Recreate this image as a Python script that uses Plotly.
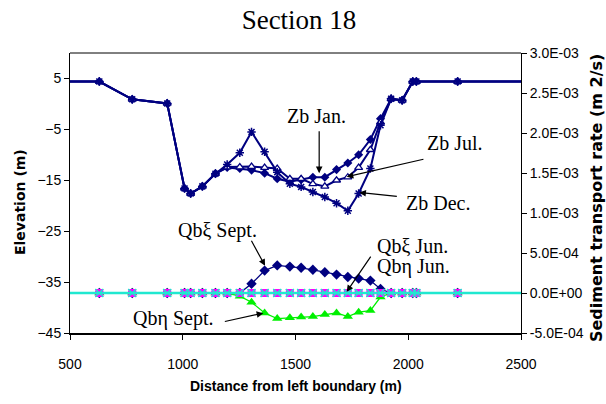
import plotly.graph_objects as go

# Cross-section stations (m from left boundary)
distance = [400, 630, 776, 931, 1008, 1035, 1087, 1145, 1197, 1253, 1305, 1363, 1419, 1475,
            1525, 1577, 1630, 1682, 1732, 1780, 1832, 1877, 1924, 1973, 2020, 2036, 2219, 2600]

# Bed elevation (m)
zb_jan = [4.4, 4.4, 0.9, 0.1, -16.6, -17.6, -16.2, -13.7, -12.5, -12.7, -13.0, -13.6, -14.7, -15.3,
          -14.9, -14.4, -14.4, -12.9, -11.6, -10.0, -7.0, -2.9, 1.0, 0.7, 4.4, 4.4, 4.4, 4.4]
zb_jul = [4.4, 4.4, 0.9, 0.1, -16.6, -17.6, -16.2, -13.7, -12.4, -12.4, -12.3, -12.5, -12.7, -14.7,
          -14.7, -15.7, -16.2, -15.0, -14.4, -12.5, -9.0, -3.6, 1.0, 0.7, 4.4, 4.4, 4.4, 4.4]
zb_dec = [4.4, 4.4, 0.9, 0.1, -16.6, -17.6, -16.2, -13.7, -11.9, -9.6, -5.5, -9.4, -13.4, -15.7,
          -16.3, -17.3, -18.3, -19.5, -21.0, -17.6, -12.7, -4.2, 1.0, 0.7, 4.4, 4.4, 4.4, 4.4]

# Sediment transport rate (m2/s)
qb_xi_sept = [0, 0, 0, 0, 0, 0, 0, 0, 0, 0, 1.15e-4, 2.8e-4, 3.45e-4, 3.3e-4,
              3.15e-4, 2.9e-4, 2.6e-4, 2.3e-4, 2.0e-4, 1.8e-4, 1.55e-4, 0.5e-4, 0, 0, 0, 0, 0, 0]
qb_eta_sept = [0, 0, 0, 0, 0, 0, 0, 0, 0, -0.4e-4, -1.15e-4, -2.5e-4, -3.2e-4, -3.1e-4,
               -3.0e-4, -2.95e-4, -2.7e-4, -2.5e-4, -2.95e-4, -2.4e-4, -2.2e-4, -0.5e-4, 0, 0, 0, 0, 0, 0]
qb_xi_jun = [0] * 28
qb_eta_jun = [0] * 28

# Axis ticks
elev_ticks = [-45, -35, -25, -15, -5, 5]
rate_ticks = [-5e-4, 0, 5e-4, 1e-3, 1.5e-3, 2e-3, 2.5e-3, 3e-3]
rate_labels = ["-5.0E-04", "0.0E+00", "5.0E-04", "1.0E-03", "1.5E-03", "2.0E-03", "2.5E-03", "3.0E-03"]
dist_ticks = [500, 1000, 1500, 2000, 2500]

NAVY = "#000080"
GREEN = "#00F000"
MAGENTA = "#FF00FF"
CYAN = "#20E8D0"

fig = go.Figure()

fig.add_trace(go.Scatter(x=distance, y=zb_jan, name="Zb Jan.", mode="lines+markers",
                         line=dict(color=NAVY, width=2),
                         marker=dict(symbol="diamond", size=7, color=NAVY)))
fig.add_trace(go.Scatter(x=distance, y=zb_jul, name="Zb Jul.", mode="lines+markers",
                         line=dict(color=NAVY, width=2),
                         marker=dict(symbol="triangle-up", size=7, color="white",
                                     line=dict(color=NAVY, width=1.3))))
fig.add_trace(go.Scatter(x=distance, y=zb_dec, name="Zb Dec.", mode="lines+markers",
                         line=dict(color=NAVY, width=2),
                         marker=dict(symbol="asterisk-open", size=7,
                                     line=dict(color=NAVY, width=1.5))))

fig.add_trace(go.Scatter(x=distance, y=qb_xi_sept, name="Qbξ Sept.", yaxis="y2", mode="lines+markers",
                         line=dict(color=NAVY, width=1.3),
                         marker=dict(symbol="diamond", size=8, color=NAVY)))
fig.add_trace(go.Scatter(x=distance, y=qb_eta_sept, name="Qbη Sept.", yaxis="y2", mode="lines+markers",
                         line=dict(color=GREEN, width=1.3),
                         marker=dict(symbol="triangle-up", size=9, color=GREEN)))
fig.add_trace(go.Scatter(x=distance, y=qb_xi_jun, name="Qbξ Jun.", yaxis="y2", mode="lines+markers",
                         line=dict(color=MAGENTA, width=2),
                         marker=dict(symbol="square", size=8, color=MAGENTA)))
fig.add_trace(go.Scatter(x=distance, y=qb_eta_jun, name="Qbη Jun.", yaxis="y2", mode="lines+markers",
                         line=dict(color=CYAN, width=2.5),
                         marker=dict(symbol="x-thin-open", size=8,
                                     line=dict(color=CYAN, width=1.5))))

SERIF = "Liberation Serif, Times New Roman, serif"
SANS = "Liberation Sans, Arial, sans-serif"

# Arrows (tail -> tip) pointing at the curves
arrows = [
    dict(tail=(1605, -5.1), tip=(1605, -13.6)),
    dict(tail=(2074, -10.8), tip=(1727, -14.3)),
    dict(tail=(1956, -18.2), tip=(1783, -17.4)),
    dict(tail=(1301, -26.6), tip=(1365, -31.8)),
    dict(tail=(1838, -29.7), tip=(1727, -36.9)),
    dict(tail=(1180, -42.8), tip=(1357, -41.1)),
]
annotations = []
for a in arrows:
    annotations.append(dict(x=a["tip"][0], y=a["tip"][1], ax=a["tail"][0], ay=a["tail"][1],
                            xref="x", yref="y", axref="x", ayref="y", text="",
                            showarrow=True, arrowhead=2, arrowsize=1.1, arrowwidth=1.2,
                            arrowcolor="black", standoff=0, startstandoff=0))

labels = [
    ("Zb Jan.", 1595, -2.4, "center"),
    ("Zb Jul.", 2207, -7.7, "center"),
    ("Zb Dec.", 2132, -19.5, "center"),
    ("Qbξ Sept.", 1152, -24.8, "center"),
    ("Qbξ Jun.", 1852, -27.9, "left"),
    ("Qbη Jun.", 1852, -32.0, "left"),
    ("Qbη Sept.", 957, -42.1, "center"),
]
for text, x, y, anchor in labels:
    annotations.append(dict(x=x, y=y, xref="x", yref="y", text=text, showarrow=False,
                            xanchor=anchor, yanchor="middle",
                            font=dict(family=SERIF, size=20, color="black")))

# Axis titles, placed in pixel terms and converted to paper coordinates below
annotations.append(dict(x=20, y=202, text="<b>Elevation (m)</b>", textangle=-90,
                        font=dict(family="DejaVu Sans", size=14, color="black")))
annotations.append(dict(x=296, y=386, text="<b>Distance from left boundary (m)</b>",
                        font=dict(family=SANS, size=14, color="black")))
annotations.append(dict(x=597, y=198, text="<b>Sediment transport rate (m 2/s)</b>", textangle=-90,
                        font=dict(family="DejaVu Sans", size=16, color="black")))

L, R, T, B = 70, 85, 53, 71
W, H = 606, 404
pw, ph = W - L - R, H - T - B
for ann in annotations[-3:]:
    ann["x"] = (ann["x"] - L) / pw
    ann["y"] = (H - B - ann["y"]) / ph
    ann.update(xref="paper", yref="paper", showarrow=False, xanchor="center", yanchor="middle")

fig.update_layout(
    width=W, height=H,
    margin=dict(l=L, r=R, t=T, b=B),
    paper_bgcolor="white", plot_bgcolor="white",
    showlegend=False,
    title=dict(text="Section 18", x=299 / W, xanchor="center", y=1 - 20 / H, yanchor="middle",
               xref="container", yref="container",
               font=dict(family=SERIF, size=27, color="black")),
    xaxis=dict(range=[500, 2500], tickvals=dist_ticks, showgrid=False, zeroline=False,
               showline=True, linecolor="black", linewidth=2, ticks="outside", ticklen=5,
               tickcolor="black", ticklabelstandoff=12,
               tickfont=dict(family=SANS, size=14, color="black")),
    yaxis=dict(range=[-45, 10], tickvals=elev_ticks, showgrid=False, zeroline=False,
               showline=True, linecolor="black", linewidth=1, ticks="outside", ticklen=5,
               tickcolor="black", tickfont=dict(family=SANS, size=14, color="black")),
    yaxis2=dict(range=[-5e-4, 3e-3], tickvals=rate_ticks, ticktext=rate_labels, overlaying="y",
                side="right", showgrid=False, zeroline=False, showline=True, linecolor="black",
                linewidth=1, ticks="outside", ticklen=5, tickcolor="black",
                tickfont=dict(family=SANS, size=14, color="black")),
    annotations=annotations,
    shapes=[dict(type="line", xref="paper", yref="paper", x0=0, x1=1, y0=1, y1=1,
                 line=dict(color="black", width=1))],
)

fig.write_html("out.html")
